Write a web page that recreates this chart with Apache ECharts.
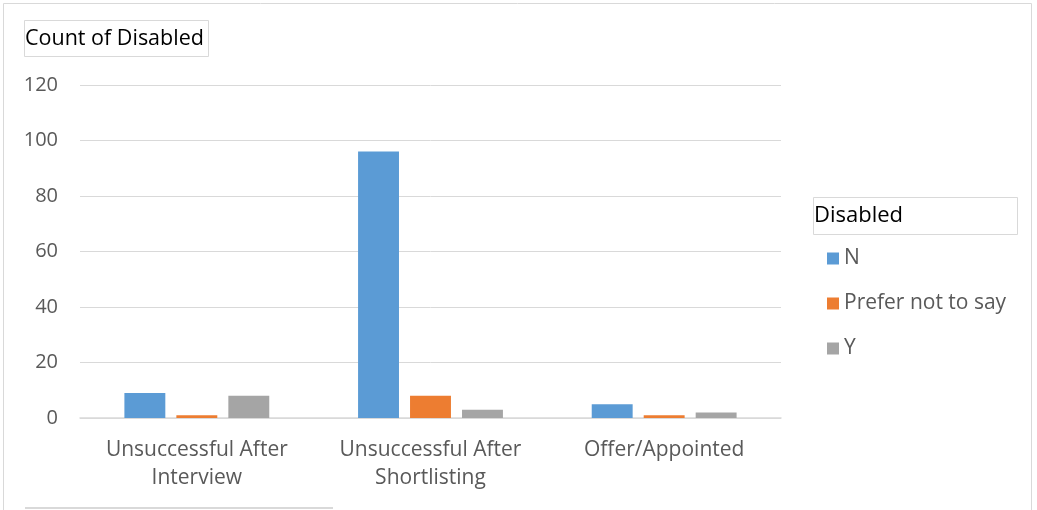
<!DOCTYPE html>
<html>
<head>
<meta charset="utf-8">
<script src="https://cdn.jsdelivr.net/npm/echarts@6/dist/echarts.min.js"></script>
<style>
html, body { margin: 0; padding: 0; background: #fff; }
#chart { width: 1037px; height: 510px; }
</style>
</head>
<body>
<div id="chart"></div>
<script>
const categories = ['Unsuccessful After\nInterview', 'Unsuccessful After\nShortlisting', 'Offer/Appointed'];
const seriesNames = ['N', 'Prefer not to say', 'Y'];
const valuesN = [9, 96, 5];
const valuesPrefer = [1, 8, 1];
const valuesY = [8, 3, 2];
const colors = ['#5b9bd5', '#ed7d31', '#a5a5a5'];

const font = '"Open Sans", Lato, sans-serif';
const chart = echarts.init(document.getElementById('chart'));

const option = {
  animation: false,
  color: colors,
  textStyle: { fontFamily: font },
  grid: { left: 80, right: 256, top: 85, bottom: 92 },
  legend: {
    orient: 'vertical',
    left: 822,
    top: 243,
    icon: 'rect',
    itemWidth: 12,
    itemHeight: 12,
    itemGap: 24,
    textStyle: { color: '#595959', fontSize: 21, fontFamily: font },
    data: seriesNames
  },
  xAxis: {
    type: 'category',
    data: categories,
    axisLine: { lineStyle: { color: '#d9d9d9', width: 1.5 } },
    axisTick: { show: false },
    axisLabel: { color: '#595959', fontSize: 21, lineHeight: 28, margin: 18, interval: 0 }
  },
  yAxis: {
    type: 'value',
    min: 0,
    max: 120,
    interval: 20,
    axisLine: { show: false },
    axisTick: { show: false },
    splitLine: { lineStyle: { color: '#d9d9d9' } },
    axisLabel: { color: '#595959', fontSize: 20, margin: 22 }
  },
  series: [
    { name: seriesNames[0], type: 'bar', data: valuesN, barGap: '27%', barCategoryGap: '38%' },
    { name: seriesNames[1], type: 'bar', data: valuesPrefer },
    { name: seriesNames[2], type: 'bar', data: valuesY }
  ],
  graphic: [
    { type: 'rect', shape: { x: 3.5, y: 3.5, width: 1028, height: 520 }, style: { fill: 'none', stroke: '#d9d9d9', lineWidth: 1 } },
    { type: 'rect', shape: { x: 24.5, y: 20.5, width: 184, height: 36 }, style: { fill: '#fff', stroke: '#d9d9d9', lineWidth: 1 } },
    { type: 'text', left: 25, top: 28, style: { text: 'Count of Disabled', fill: '#000', fontSize: 21.5, fontFamily: font } },
    { type: 'rect', shape: { x: 813.5, y: 197.5, width: 204, height: 37 }, style: { fill: '#fff', stroke: '#d9d9d9', lineWidth: 1 } },
    { type: 'text', left: 814, top: 205, style: { text: 'Disabled', fill: '#000', fontSize: 22, fontFamily: font } },
    { type: 'line', shape: { x1: 25, y1: 508, x2: 333, y2: 508 }, style: { stroke: '#d9d9d9', lineWidth: 2 } }
  ]
};
chart.setOption(option);
</script>
</body>
</html>
